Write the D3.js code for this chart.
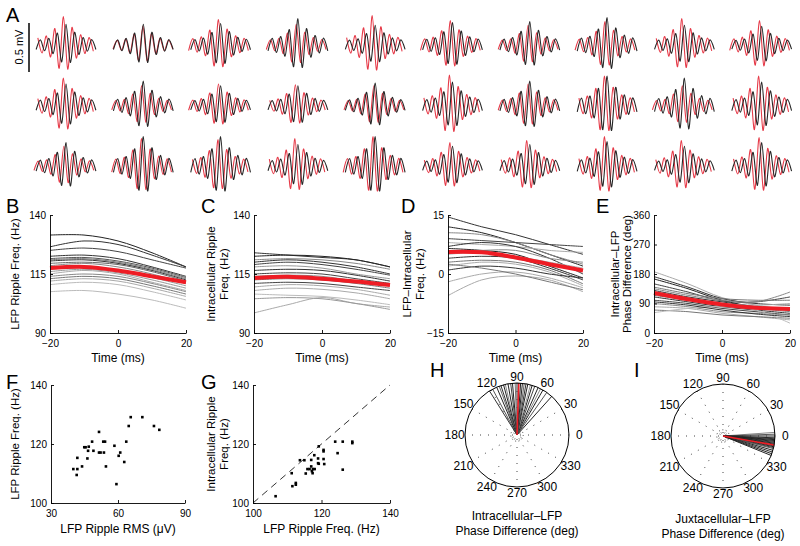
<!DOCTYPE html>
<html>
<head>
<meta charset="utf-8">
<script src="https://cdn.jsdelivr.net/npm/d3@7"></script>
<style>
  body { margin: 0; background: #fff; }
  svg { font-family: "Liberation Sans", Arial, sans-serif; }
</style>
</head>
<body>
<svg id="fig" width="800" height="546"></svg>
<script>
// ---- Panel A: example ripple waveforms (10 columns x 3 rows) ----
// relative half-cycle peak sizes of a ripple
const waveEnvelope = [0.22, 0.25, 0.28, 0.32, 0.42, 0.58, 0.82, 1.0, 0.85, 0.62, 0.46, 0.36, 0.3, 0.26, 0.22];
// largest peak of each trace (mV), row by row
const blackPeak = [0.21, 0.21, 0.22, 0.27, 0.2, 0.23, 0.24, 0.28, 0.2, 0.19,
                   0.22, 0.25, 0.2, 0.2, 0.23, 0.24, 0.25, 0.3, 0.28, 0.24,
                   0.24, 0.3, 0.3, 0.22, 0.3, 0.2, 0.22, 0.25, 0.2, 0.24];
const redPeak = [0.29, 0.19, 0.26, 0.21, 0.3, 0.25, 0.2, 0.24, 0.27, 0.25,
                 0.28, 0.2, 0.22, 0.21, 0.2, 0.31, 0.22, 0.3, 0.2, 0.3,
                 0.2, 0.28, 0.27, 0.28, 0.3, 0.24, 0.26, 0.3, 0.26, 0.29];
// red trace lead, in half cycles
const redLag = [-0.6, -0.1, -0.5, -0.4, -0.7, -0.5, -0.4, -0.5, -0.6, -0.5,
                -0.6, -0.4, -0.5, -0.6, -0.3, -0.7, -0.4, -0.6, -0.5, -0.7,
                -0.5, -0.4, -0.6, -0.7, -0.5, -0.6, -0.7, -0.6, -0.7, -0.6];

// ---- Panels B-E: time courses ----
const timeMs = [-20, -10, 0, 10, 20];

const lfpFreqLines = [
  [131.5, 131.5, 129, 124, 118], [126.5, 129, 127.5, 123, 118], [125, 126, 124.5, 121, 117.5],
  [122.5, 123, 121.5, 118, 114], [121.5, 122, 120.5, 117.5, 113.5], [121, 121.5, 120, 117, 113],
  [120.5, 121, 119.5, 116.5, 112.5], [119.5, 120, 119, 116, 112], [118.5, 119.5, 118, 115, 111],
  [117, 118, 116.5, 113.5, 110], [116, 117, 115.5, 112.5, 109], [115, 116.5, 115, 111.5, 108],
  [114, 115, 114, 111, 107.5], [113, 114, 113, 110, 106.5], [112, 113, 112, 109, 105.5],
  [110.5, 111.5, 110.5, 107.5, 104], [107.5, 108, 106.5, 104, 100.5]
];
const lfpFreqMean = [117.5, 118, 116.5, 114, 111.5];

const intraFreqLines = [
  [124, 123, 122, 121, 118], [122.5, 123, 122.5, 121, 118], [121, 121.5, 121, 119.5, 117],
  [120, 121, 120, 118, 115], [119, 120, 119, 117, 114.5], [118, 118.5, 117.5, 115, 113],
  [116.5, 117, 116.5, 114.5, 112], [115, 115.5, 115, 113, 111], [114, 114.5, 114, 112, 110],
  [112.5, 113, 112.5, 111, 109], [111, 111.5, 111, 109.5, 108], [109.5, 110.5, 110, 108.5, 106],
  [108, 109, 108.5, 107, 104.5], [106.5, 106, 105.5, 104, 102], [98.5, 102, 105, 102.5, 101],
  [104.5, 105, 104.5, 102.5, 100]
];
const intraFreqMean = [113.3, 113.8, 113, 111.8, 110.3];

const diffFreqLines = [
  [14.5, 12, 10, 7.5, 5], [12, 10.5, 8, 5, 2], [10.5, 10, 8, 5, 2.5], [9, 8.5, 8, 7.5, 7],
  [8, 7.5, 7, 6, 5.5], [7, 8, 7, 4, 0], [6.5, 6, 5, 2, -1], [5.5, 6, 6, 4, 3],
  [5, 5.5, 4.5, 3, 1.5], [4, 4.5, 4, 1.5, -1.5], [3, 3.5, 3, 1, -2.5], [2, 3, 2.5, 0.5, -3],
  [1, 2, 1.5, 0, -1], [-2, 0, 0.5, -1, -3.5], [-5.5, -1.5, -0.5, -1.5, -4.5], [2.5, 1.5, 0, -2, -4]
];
const diffFreqMean = [5.6, 5.5, 4.2, 2.5, 0.9];

const phaseLines = [
  [187, 150, 108, 85, 70], [172, 140, 105, 90, 85], [165, 135, 100, 80, 75], [150, 125, 98, 95, 110],
  [140, 120, 105, 100, 100], [135, 115, 100, 95, 125], [130, 110, 95, 80, 70], [125, 105, 90, 85, 90],
  [115, 100, 85, 75, 65], [110, 95, 80, 70, 60], [100, 90, 75, 65, 55], [90, 80, 65, 60, 55],
  [80, 75, 60, 50, 40], [70, 65, 55, 50, 45], [62, 75, 80, 70, 30], [95, 85, 70, 58, 50]
];
const phaseMean = [122, 103, 87, 77, 73];

// ---- Panel F ----
const lfpRms = [40.0, 41.8, 41.5, 41.8, 43.9, 44.9, 45.5, 46.3, 46.6, 46.9, 48.4, 49.0, 51.5, 51.5, 52.2,
                53.4, 54.2, 53.7, 54.6, 58.4, 59.3, 60.3, 61.0, 62.8, 63.7, 64.8, 65.7, 70.9, 76.1, 78.5];
const lfpFreqF = [111.5, 111.5, 109.5, 115.3, 112.4, 118.9, 118.9, 115.1, 117.7, 119.1, 120.8, 117.7, 124.1, 117.1, 117.1,
                  120.8, 120.8, 117.1, 112.4, 119.4, 106.4, 116.0, 117.1, 113.9, 120.8, 126.1, 129.1, 129.1, 126.1, 124.8];

// ---- Panel G ----
const lfpFreqG = [106.6, 111.3, 111.5, 112.5, 112.5, 113.7, 115.0, 115.4, 115.9, 116.5, 117.0, 117.0, 117.2, 117.4, 117.5, 117.9,
                  118.0, 119.0, 119.0, 119.2, 119.2, 120.6, 120.6, 120.6, 120.8, 124.0, 124.7, 126.2, 126.2, 129.0, 129.0];
const intraFreqG = [102.3, 110.1, 105.7, 106.8, 106.2, 114.5, 114.5, 110.0, 111.5, 111.5, 114.6, 112.4, 110.8, 110.1, 111.5, 116.2,
                    111.5, 113.5, 115.1, 113.3, 119.2, 118.0, 117.5, 114.9, 113.2, 120.8, 116.9, 120.8, 111.3, 120.8, 120.3];

// ---- Panels H, I: phase differences (deg) ----
const intraPhaseAngles = [48, 55, 60, 63, 66, 70, 73, 75, 78, 80, 82, 84, 86, 90, 92, 95, 97, 100, 103, 105, 108, 110, 113, 118, 122];
const intraPhaseMean = 88;
const juxtaPhaseAngles = [4, 2, 0, -2, -3, -4, -5, -6, -7, -8, -9, -11, -12, -13, -14, -16, -18, -20, -22];
const juxtaPhaseMean = -10;
const polarTicks = [0, 30, 60, 90, 120, 150, 180, 210, 240, 270, 300, 330];

// ---------------------------------------------------------------
const svg = d3.select("#fig");
const RED = "#ee1c24";
const LABEL_SIZE = 11.5;

function letter(t, x, y) {
  svg.append("text").attr("x", x).attr("y", y).attr("font-size", 20).text(t);
}

function tidyAxis(g) {
  g.attr("font-family", null).attr("font-size", 10);
  g.select(".domain").attr("stroke", "#000").attr("stroke-width", 0.9);
  g.selectAll(".tick line").attr("stroke", "#000").attr("stroke-width", 0.9);
  g.selectAll(".tick text").attr("fill", "#000");
}

function yLabel(lines, xs, cy) {
  lines.forEach((t, i) => {
    svg.append("text")
      .attr("transform", `translate(${xs[i]},${cy}) rotate(-90)`)
      .attr("text-anchor", "middle")
      .attr("font-size", LABEL_SIZE)
      .text(t);
  });
}

// ---- Panel A ----
const colX = d3.scaleBand().domain(d3.range(10)).range([34, 793.7]).paddingInner(0.172).paddingOuter(0);
const rowY = d3.scalePoint().domain([0, 1, 2]).range([45, 166]);
const mv = d3.scaleLinear().domain([0, 0.5]).range([0, 49]);

function tracePoints(peak, lag) {
  const n = waveEnvelope.length;
  const pts = [];
  waveEnvelope.forEach((e, k) => {
    const t = (k + 0.5 + lag) / n;
    if (t >= 0 && t <= 1) pts.push([t, (k % 2 === 1 ? 1 : -1) * e * peak]);
  });
  return pts;
}

d3.range(30).forEach(i => {
  const c = i % 10, r = Math.floor(i / 10);
  const x = d3.scaleLinear().domain([0, 1]).range([colX(c), colX(c) + colX.bandwidth()]);
  const cy = rowY(r);
  const line = d3.line().x(d => x(d[0])).y(d => cy - mv(d[1])).curve(d3.curveCardinal.tension(0.1));
  svg.append("path").attr("d", line(tracePoints(redPeak[i], redLag[i])))
    .attr("fill", "none").attr("stroke", "#e63a48").attr("stroke-width", 1.1);
  svg.append("path").attr("d", line(tracePoints(blackPeak[i], 0)))
    .attr("fill", "none").attr("stroke", "#262626").attr("stroke-width", 1.1);
});

// scale bar 0.5 mV
svg.append("line").attr("x1", 29).attr("x2", 29).attr("y1", 23).attr("y2", 23 + mv(0.5))
  .attr("stroke", "#000").attr("stroke-width", 1.5);
svg.append("text").attr("transform", "translate(23,47) rotate(-90)").attr("text-anchor", "middle")
  .attr("font-size", 11).text("0.5 mV");
letter("A", 6, 22);

// ---- Panels B-E ----
const plotTop = 215, plotBottom = 333;

function linePanel(p) {
  const x = d3.scaleLinear().domain([-20, 20]).range([p.x0, p.x1]);
  const y = d3.scaleLinear().domain(p.domain).range([plotBottom, plotTop]);
  const line = d3.line().x((d, i) => x(timeMs[i])).y(d => y(d)).curve(d3.curveCatmullRom);

  svg.append("g").selectAll("path").data(p.lines).enter().append("path")
    .attr("d", line).attr("fill", "none")
    .attr("stroke", (d, i) => p.shades[i % p.shades.length]).attr("stroke-width", 1);
  svg.append("path").datum(p.mean).attr("d", line)
    .attr("fill", "none").attr("stroke", RED).attr("stroke-width", 4);

  svg.append("g").attr("transform", `translate(0,${plotBottom})`)
    .call(d3.axisBottom(x).tickValues([-20, 0, 20]).tickSize(-3).tickSizeOuter(0).tickPadding(7))
    .call(tidyAxis);
  svg.append("g").attr("transform", `translate(${p.x0},0)`)
    .call(d3.axisLeft(y).tickValues(p.yticks).tickSize(-3).tickSizeOuter(0).tickPadding(4))
    .call(tidyAxis);

  svg.append("text").attr("x", (p.x0 + p.x1) / 2).attr("y", 362).attr("text-anchor", "middle")
    .attr("font-size", 12).text("Time (ms)");
  yLabel(p.label, p.labelX, (plotTop + plotBottom) / 2);
}

linePanel({
  x0: 50, x1: 186, domain: [90, 140], yticks: [90, 115, 140],
  lines: lfpFreqLines, mean: lfpFreqMean,
  shades: ["#222", "#333", "#444", "#333", "#555", "#777", "#333", "#666", "#888", "#999", "#999", "#aaa", "#888", "#777", "#aaa", "#bbb", "#bbb"],
  label: ["LFP Ripple Freq. (Hz)"], labelX: [19]
});
linePanel({
  x0: 254, x1: 390, domain: [90, 140], yticks: [90, 115, 140],
  lines: intraFreqLines, mean: intraFreqMean,
  shades: ["#333", "#222", "#888", "#333", "#444", "#999", "#333", "#444", "#888", "#777", "#444", "#aaa", "#aaa", "#bbb", "#aaa", "#999"],
  label: ["Intracellular Ripple", "Freq. (Hz)"], labelX: [215, 228]
});
linePanel({
  x0: 448, x1: 583, domain: [-15, 15], yticks: [-15, 0, 15],
  lines: diffFreqLines, mean: diffFreqMean,
  shades: ["#333", "#222", "#888", "#444", "#aaa", "#333", "#222", "#888", "#aaa", "#333", "#777", "#aaa", "#333", "#aaa", "#aaa", "#777"],
  label: ["LFP\u2013Intracellular", "Freq. (Hz)"], labelX: [411, 424]
});
linePanel({
  x0: 654, x1: 790, domain: [0, 360], yticks: [0, 90, 180, 270, 360],
  lines: phaseLines, mean: phaseMean,
  shades: ["#aaa", "#333", "#222", "#444", "#777", "#888", "#333", "#aaa", "#777", "#333", "#444", "#888", "#aaa", "#777", "#bbb", "#333"],
  label: ["Intracellular\u2013LFP", "Phase Difference (deg)"], labelX: [619, 631]
});
letter("B", 6, 213);
letter("C", 201, 213);
letter("D", 401, 213);
letter("E", 596, 213);

// ---- Panels F, G: scatter ----
const scTop = 385, scBottom = 503;

function scatterPanel(p) {
  const x = d3.scaleLinear().domain(p.xdom).range([p.x0, p.x1]);
  const y = d3.scaleLinear().domain(p.ydom).range([scBottom, scTop]);
  if (p.diagonal) {
    svg.append("line").attr("x1", x(100)).attr("y1", y(100)).attr("x2", x(140)).attr("y2", y(140))
      .attr("stroke", "#333").attr("stroke-width", 1).attr("stroke-dasharray", "7,5");
  }
  svg.append("g").selectAll("rect").data(p.xs).enter().append("rect")
    .attr("x", d => x(d) - 1.3).attr("y", (d, i) => y(p.ys[i]) - 1.3)
    .attr("width", 2.6).attr("height", 2.6).attr("fill", "#000");
  svg.append("g").attr("transform", `translate(0,${scBottom})`)
    .call(d3.axisBottom(x).tickValues(p.xticks).tickSize(-3).tickSizeOuter(0).tickPadding(7))
    .call(tidyAxis);
  svg.append("g").attr("transform", `translate(${p.x0},0)`)
    .call(d3.axisLeft(y).tickValues(p.yticks).tickSize(-3).tickSizeOuter(0).tickPadding(4))
    .call(tidyAxis);
  svg.append("text").attr("x", (p.x0 + p.x1) / 2).attr("y", 533).attr("text-anchor", "middle")
    .attr("font-size", 12).text(p.xlabel);
  yLabel(p.ylabel, p.labelX, (scTop + scBottom) / 2);
}

scatterPanel({
  x0: 51, x1: 185, xdom: [30, 90], ydom: [100, 140], xticks: [30, 60, 90], yticks: [100, 120, 140],
  xs: lfpRms, ys: lfpFreqF, xlabel: "LFP Ripple RMS (\u03bcV)",
  ylabel: ["LFP Ripple Freq. (Hz)"], labelX: [19]
});
scatterPanel({
  x0: 253, x1: 390, xdom: [100, 140], ydom: [100, 140], xticks: [100, 120, 140], yticks: [100, 120, 140],
  xs: lfpFreqG, ys: intraFreqG, xlabel: "LFP Ripple Freq. (Hz)", diagonal: true,
  ylabel: ["Intracellular Ripple", "Freq. (Hz)"], labelX: [215, 228]
});
letter("F", 6, 389);
letter("G", 201, 389);

// ---- Panels H, I: polar ----
function polarPanel(p) {
  const r = d3.scaleLinear().domain([0, 1]).range([0, 52]);
  const pt = (deg, rr) => [p.cx + rr * Math.cos(deg * Math.PI / 180), p.cy - rr * Math.sin(deg * Math.PI / 180)];
  const g = svg.append("g");

  polarTicks.filter(a => a < 180).forEach(a => {
    const a0 = pt(a, r(1)), a1 = pt(a + 180, r(1));
    g.append("line").attr("x1", a0[0]).attr("y1", a0[1]).attr("x2", a1[0]).attr("y2", a1[1])
      .attr("stroke", "#444").attr("stroke-width", 1).attr("stroke-dasharray", "1,7");
  });
  g.append("circle").attr("cx", p.cx).attr("cy", p.cy).attr("r", r(0.12))
    .attr("fill", "none").attr("stroke", "#444").attr("stroke-dasharray", "1,2.5");

  p.angles.forEach((a, i) => {
    const e = pt(a, r(1));
    g.append("line").attr("x1", p.cx).attr("y1", p.cy).attr("x2", e[0]).attr("y2", e[1])
      .attr("stroke", p.shades[i % p.shades.length]).attr("stroke-width", 1);
  });
  const m = pt(p.mean, r(1));
  g.append("line").attr("x1", p.cx).attr("y1", p.cy).attr("x2", m[0]).attr("y2", m[1])
    .attr("stroke", RED).attr("stroke-width", 1.6);

  g.append("circle").attr("cx", p.cx).attr("cy", p.cy).attr("r", r(1))
    .attr("fill", "none").attr("stroke", "#000").attr("stroke-width", 1);

  polarTicks.forEach(a => {
    const horiz = Math.abs(Math.cos(a * Math.PI / 180));
    const q = pt(a, r(1.12 + 0.08 * horiz));
    g.append("text").attr("x", q[0]).attr("y", q[1]).attr("dy", "0.35em").attr("text-anchor", "middle")
      .attr("font-size", 12).text(a);
  });
  p.label.forEach((t, i) => {
    g.append("text").attr("x", p.cx).attr("y", p.labelY + i * 15).attr("text-anchor", "middle")
      .attr("font-size", 12).text(t);
  });
}

polarPanel({
  cx: 517, cy: 435, angles: intraPhaseAngles, mean: intraPhaseMean,
  shades: ["#222", "#555", "#222", "#888", "#222", "#444", "#222", "#999", "#222", "#333", "#666", "#222", "#222", "#333", "#777", "#222", "#444", "#222", "#888", "#222", "#333", "#666", "#222", "#555", "#333"],
  label: ["Intracellular\u2013LFP", "Phase Difference (deg)"], labelY: 520
});
polarPanel({
  cx: 723, cy: 436, angles: juxtaPhaseAngles, mean: juxtaPhaseMean,
  shades: ["#888", "#555", "#222", "#222", "#333", "#222", "#222", "#222", "#333", "#222", "#222", "#333", "#222", "#444", "#555", "#222", "#333", "#222", "#222"],
  label: ["Juxtacellular\u2013LFP", "Phase Difference (deg)"], labelY: 523
});
letter("H", 430, 377);
letter("I", 634, 377);
</script>
</body>
</html>
